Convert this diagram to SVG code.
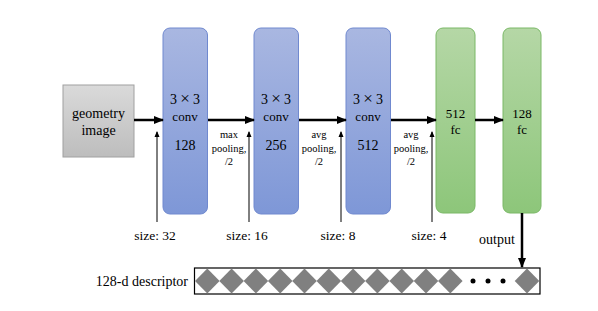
<svg xmlns="http://www.w3.org/2000/svg" width="598" height="311" viewBox="0 0 598 311">
<defs>
<linearGradient id="gBlue" x1="0" y1="0" x2="0" y2="1"><stop offset="0" stop-color="#a9b7e1"/><stop offset="1" stop-color="#7e97d7"/></linearGradient>
<linearGradient id="gGreen" x1="0" y1="0" x2="0" y2="1"><stop offset="0" stop-color="#b5d7a6"/><stop offset="1" stop-color="#8dc67a"/></linearGradient>
<linearGradient id="gGray" x1="0" y1="0" x2="0" y2="1"><stop offset="0" stop-color="#dadada"/><stop offset="1" stop-color="#bdbdbd"/></linearGradient>
<marker id="ah" markerWidth="10" markerHeight="8" refX="9" refY="4" orient="auto" markerUnits="userSpaceOnUse"><path d="M0,0 L10,4 L0,8 z" fill="#000"/></marker>
<marker id="ahs" markerWidth="6" markerHeight="6" refX="5" refY="3" orient="auto" markerUnits="userSpaceOnUse"><path d="M0,0.5 L6,3 L0,5.5 z" fill="#000"/></marker>
<style>
text{font-family:'Liberation Serif','Times New Roman',serif;fill:#000}
.t{text-anchor:middle}
.e{text-anchor:end}
.x{font-size:17px}
.conv{fill:url(#gBlue);stroke:#7089cf;stroke-width:1}
.fc{fill:url(#gGreen);stroke:#7ab866;stroke-width:1}
.main{stroke:#000;stroke-width:2.5;fill:none;marker-end:url(#ah)}
.thin{stroke:#000;stroke-width:1;fill:none;marker-end:url(#ahs)}
.dia{fill:#808080}
</style>
</defs>

<g id="geometry">
<rect x="63" y="85" width="71" height="72" fill="url(#gGray)" stroke="#a0a0a0"/>
<text class="t" x="98.5" y="118" font-size="14">geometry</text>
<text class="t" x="98.5" y="135" font-size="14">image</text>
</g>

<g id="conv1">
<rect class="conv" x="163" y="28" width="44.5" height="186" rx="7"/>
<text class="t" x="185" y="104" font-size="14" textLength="30" lengthAdjust="spacing">3<tspan class="x">×</tspan>3</text>
<text class="t" x="185" y="121" font-size="13">conv</text>
<text class="t" x="185" y="150" font-size="14">128</text>
</g>
<g id="conv2">
<rect class="conv" x="254" y="28" width="44.5" height="186" rx="7"/>
<text class="t" x="276" y="104" font-size="14" textLength="30" lengthAdjust="spacing">3<tspan class="x">×</tspan>3</text>
<text class="t" x="276" y="121" font-size="13">conv</text>
<text class="t" x="276" y="150" font-size="14">256</text>
</g>
<g id="conv3">
<rect class="conv" x="346" y="28" width="44.5" height="186" rx="7"/>
<text class="t" x="368" y="104" font-size="14" textLength="30" lengthAdjust="spacing">3<tspan class="x">×</tspan>3</text>
<text class="t" x="368" y="121" font-size="13">conv</text>
<text class="t" x="368" y="150" font-size="14">512</text>
</g>
<g id="fc1">
<rect class="fc" x="436" y="28" width="39" height="185" rx="7"/>
<text class="t" x="455.5" y="118" font-size="13">512</text>
<text class="t" x="455.5" y="134" font-size="13">fc</text>
</g>
<g id="fc2">
<rect class="fc" x="503" y="28" width="38" height="185" rx="7"/>
<text class="t" x="522" y="118" font-size="13">128</text>
<text class="t" x="522" y="134" font-size="13">fc</text>
</g>

<g id="connectors">
<line class="main" x1="134" y1="120" x2="163" y2="120"/>
<line class="main" x1="208" y1="120" x2="254" y2="120"/>
<line class="main" x1="299" y1="120" x2="346" y2="120"/>
<line class="main" x1="391" y1="120" x2="436" y2="120"/>
<line class="main" x1="475" y1="120" x2="503" y2="120"/>
<line class="main" x1="522" y1="213" x2="522" y2="267"/>
<line class="thin" x1="157" y1="222" x2="157" y2="132"/>
<line class="thin" x1="249" y1="222" x2="249" y2="132"/>
<line class="thin" x1="341" y1="222" x2="341" y2="132"/>
<line class="thin" x1="432" y1="222" x2="432" y2="132"/>
</g>

<g id="labels">
<text class="t" font-size="10.5" x="229" y="138">max</text>
<text class="t" font-size="10.5" x="229" y="152">pooling,</text>
<text class="t" font-size="10.5" x="229" y="165">/2</text>
<text class="t" font-size="10.5" x="319" y="138">avg</text>
<text class="t" font-size="10.5" x="319" y="152">pooling,</text>
<text class="t" font-size="10.5" x="319" y="165">/2</text>
<text class="t" font-size="10.5" x="411" y="138">avg</text>
<text class="t" font-size="10.5" x="411" y="152">pooling,</text>
<text class="t" font-size="10.5" x="411" y="165">/2</text>
<text class="t" font-size="13.5" x="155" y="240">size: 32</text>
<text class="t" font-size="13.5" x="247" y="240">size: 16</text>
<text class="t" font-size="13.5" x="338" y="240">size: 8</text>
<text class="t" font-size="13.5" x="429" y="240">size: 4</text>
<text class="t" font-size="14" x="497" y="244">output</text>
</g>

<g id="descriptor">
<text class="t e" font-size="14" x="188" y="286">128-d descriptor</text>
<rect x="194.5" y="268" width="345.5" height="26" fill="#fff" stroke="#000" stroke-width="1.2"/>
<path class="dia" d="M195,281 l12.3,-12.5 l12.3,12.5 l-12.3,12.5 z"/>
<path class="dia" d="M219.3,281 l12.3,-12.5 l12.3,12.5 l-12.3,12.5 z"/>
<path class="dia" d="M243.6,281 l12.3,-12.5 l12.3,12.5 l-12.3,12.5 z"/>
<path class="dia" d="M267.9,281 l12.3,-12.5 l12.3,12.5 l-12.3,12.5 z"/>
<path class="dia" d="M292.2,281 l12.3,-12.5 l12.3,12.5 l-12.3,12.5 z"/>
<path class="dia" d="M316.5,281 l12.3,-12.5 l12.3,12.5 l-12.3,12.5 z"/>
<path class="dia" d="M340.8,281 l12.3,-12.5 l12.3,12.5 l-12.3,12.5 z"/>
<path class="dia" d="M365.1,281 l12.3,-12.5 l12.3,12.5 l-12.3,12.5 z"/>
<path class="dia" d="M389.4,281 l12.3,-12.5 l12.3,12.5 l-12.3,12.5 z"/>
<path class="dia" d="M413.7,281 l12.3,-12.5 l12.3,12.5 l-12.3,12.5 z"/>
<path class="dia" d="M438,281 l12.3,-12.5 l12.3,12.5 l-12.3,12.5 z"/>
<circle cx="473" cy="281" r="2.5" fill="#000"/>
<circle cx="488" cy="281" r="2.5" fill="#000"/>
<circle cx="503" cy="281" r="2.5" fill="#000"/>
<path class="dia" d="M514.7,281 l12.3,-12.5 l12.3,12.5 l-12.3,12.5 z"/>
</g>
</svg>
